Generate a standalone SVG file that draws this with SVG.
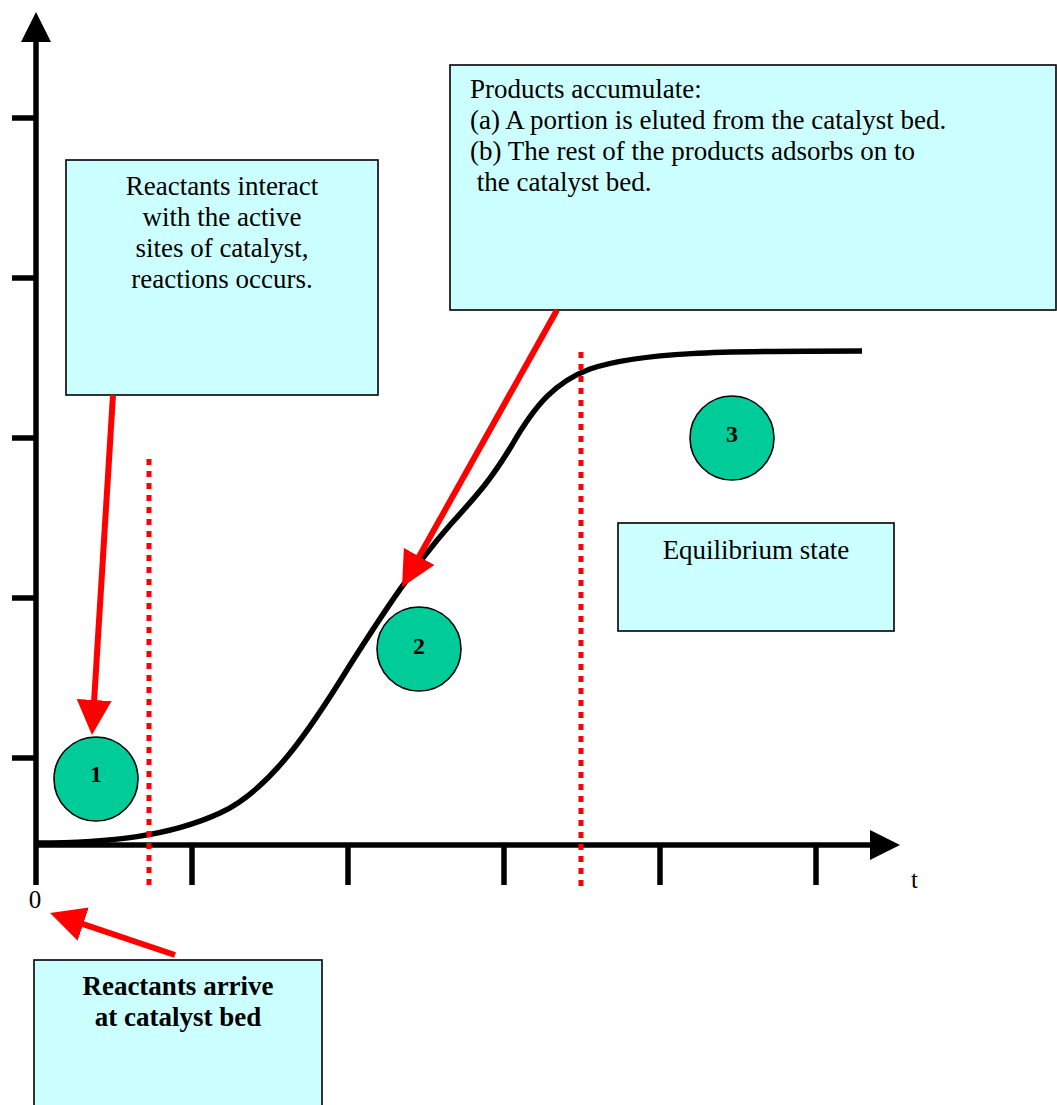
<svg xmlns="http://www.w3.org/2000/svg" width="1057" height="1105" viewBox="0 0 1057 1105">
<style>
.box{fill:#CCFFFF;stroke:#000;stroke-width:1.6}
.t{font-family:"Liberation Serif","Times New Roman",serif;font-size:27px;fill:#000}
.c{text-anchor:middle}
.b{font-weight:bold}
.circ{fill:#00CC99;stroke:#000;stroke-width:1.6}
.num{font-family:"Liberation Serif","Times New Roman",serif;font-size:24px;font-weight:bold;text-anchor:middle;fill:#000}
.axis{stroke:#000;stroke-width:5.5;fill:none}
.tick{stroke:#000;stroke-width:5.5}
.dot{stroke:#FF0000;stroke-width:5;stroke-dasharray:6 6;fill:none}
.red{stroke:#FF0000;stroke-width:6;fill:none;marker-end:url(#redHead)}
</style>
<defs>
<marker id="redHead" markerUnits="userSpaceOnUse" markerWidth="35" markerHeight="35" viewBox="0 0 35 35" refX="15" refY="17.5" orient="auto">
<path d="M0,0 L35,17.5 L0,35 z" fill="#FF0000"/>
</marker>
<marker id="axHead" markerUnits="userSpaceOnUse" markerWidth="30" markerHeight="30" viewBox="0 0 30 30" refX="15" refY="15" orient="auto">
<path d="M0,0 L30,15 L0,30 z" fill="#000"/>
</marker>
</defs>
<rect width="1057" height="1105" fill="#fff"/>

<g id="axes">
<line class="axis" x1="36" y1="885" x2="36" y2="27" marker-end="url(#axHead)"/>
<line class="axis" x1="36" y1="845" x2="885" y2="845" marker-end="url(#axHead)"/>
<line class="tick" x1="12" y1="118" x2="36" y2="118"/>
<line class="tick" x1="12" y1="278" x2="36" y2="278"/>
<line class="tick" x1="12" y1="438" x2="36" y2="438"/>
<line class="tick" x1="12" y1="598" x2="36" y2="598"/>
<line class="tick" x1="12" y1="758" x2="36" y2="758"/>
<line class="tick" x1="192" y1="845" x2="192" y2="885"/>
<line class="tick" x1="348" y1="845" x2="348" y2="885"/>
<line class="tick" x1="504" y1="845" x2="504" y2="885"/>
<line class="tick" x1="660" y1="845" x2="660" y2="885"/>
<line class="tick" x1="816" y1="845" x2="816" y2="885"/>
<text class="t c" x="35" y="908" style="font-size:25px">0</text>
<text class="t" x="911" y="888" style="font-size:25px">t</text>
</g>

<g id="curve">
<path class="axis" d="M36,843 C110,843 170,836 220,813 C270,790 310,730 350,665 C385,610 415,565 450,525 C480,492 492,478 512,445 C535,405 555,382 590,369 C640,352 720,351 862,351"/>
</g>

<g id="dividers">
<line class="dot" x1="149" y1="459" x2="149" y2="887"/>
<line class="dot" x1="581" y1="352" x2="581" y2="887"/>
</g>

<g id="box-reactants-interact">
<rect class="box" x="66" y="160" width="312" height="235"/>
<text class="t c" x="222" y="195">Reactants interact</text>
<text class="t c" x="222" y="226">with the active</text>
<text class="t c" x="222" y="257">sites of catalyst,</text>
<text class="t c" x="222" y="288">reactions occurs.</text>
</g>

<g id="box-products">
<rect class="box" x="450" y="65" width="606" height="245"/>
<text class="t" x="470" y="98">Products accumulate:</text>
<text class="t" x="470" y="129">(a) A portion is eluted from the catalyst bed.</text>
<text class="t" x="470" y="160">(b) The rest of the products adsorbs on to</text>
<text class="t" x="470" y="191" xml:space="preserve"> the catalyst bed.</text>
</g>

<g id="box-equilibrium">
<rect class="box" x="618" y="523" width="276" height="108"/>
<text class="t c" x="756" y="559">Equilibrium state</text>
</g>

<g id="box-arrive">
<rect class="box" x="34" y="960" width="288" height="160"/>
<text class="t c b" x="178" y="995">Reactants arrive</text>
<text class="t c b" x="178" y="1026">at catalyst bed</text>
</g>

<g id="stage-1">
<circle class="circ" cx="96" cy="779" r="42"/>
<text class="num" x="96" y="782">1</text>
</g>
<g id="stage-2">
<circle class="circ" cx="419" cy="649" r="42"/>
<text class="num" x="419" y="654">2</text>
</g>
<g id="stage-3">
<circle class="circ" cx="732" cy="438" r="42"/>
<text class="num" x="732" y="442">3</text>
</g>

<g id="connectors">
<line class="red" x1="113" y1="395" x2="93.2" y2="715"/>
<line class="red" x1="557" y1="310" x2="411.8" y2="569.5"/>
<line class="red" x1="175" y1="955" x2="69" y2="919.4"/>
</g>
</svg>
